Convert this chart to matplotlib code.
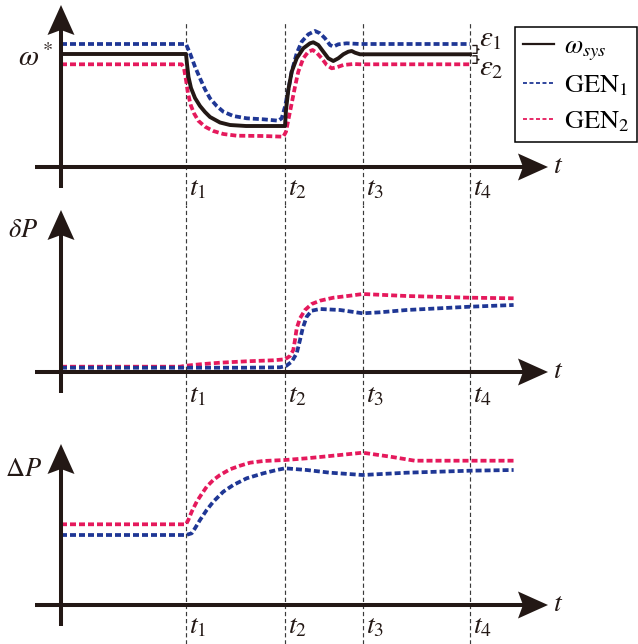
import matplotlib.pyplot as plt
from matplotlib.lines import Line2D
from matplotlib.patches import Polygon

plt.rcParams['mathtext.fontset'] = 'stix'
plt.rcParams['font.family'] = ['STIXGeneral', 'DejaVu Serif']

AXIS_C = '#231815'
BLUE = '#1f3795'
PINK = '#e5195c'
FS = 20

# time marks (x units = pixels from the vertical axis)
T_MARKS = [125, 224, 302, 409]
T_LABELS = ['$t_1$', '$t_2$', '$t_3$', '$t_4$']

# --- top panel: frequency ---
OMEGA_T = [0, 125, 126, 127.5, 130, 134, 139, 144, 149, 159, 169, 185, 224,
           225, 227.3, 230.7, 235.7, 242.3, 249, 252.3, 257.3, 262.3, 267.3,
           272.3, 277.3, 282.3, 287.3, 290.7, 294, 299, 409]
OMEGA_V = [113, 113, 103, 90, 79, 69, 61, 55, 50, 44.5, 42, 41, 41,
           57, 77, 95.3, 108.7, 118.7, 123.7, 124.7, 122, 115.3, 108.7,
           106, 108.7, 112.7, 115.3, 116, 114.3, 112.7, 112.7]

GEN1_T = [0, 125, 129, 134, 139, 144, 149, 155.7, 162.3, 172.3, 185.7, 202.3,
          217.3, 220.7, 224, 227.3, 230.7, 235.7, 240.7, 247.3, 254, 259, 264,
          269, 272.3, 277.3, 285.7, 299, 409]
GEN1_V = [123, 123, 113.7, 100.3, 88.7, 77.7, 68.7, 61, 55.3, 51, 48.7, 47.7,
          46.3, 48.7, 60.3, 77, 95.3, 113.7, 125.3, 132.7, 136, 133.7, 128.7,
          122, 120.3, 122.7, 123.7, 123, 123]

GEN2_T = [0, 120.7, 123, 125, 127, 129.7, 133, 137.3, 144, 152.3, 162.3, 175.7,
          202.3, 222.3, 225, 227.3, 230.7, 234, 237.3, 242.3, 247.3, 251.7,
          255.7, 260.7, 265.7, 270.7, 275.7, 282.3, 292.3, 299, 409]
GEN2_V = [102.7, 102.7, 98.7, 87, 73.7, 62, 53.7, 46.3, 40.3, 36, 33, 31.3,
          31, 30.3, 35.3, 47, 63.7, 80.3, 95.3, 108.7, 115.3, 117, 114.3, 108.7,
          102, 98.7, 99.7, 102, 103, 102.7, 102.7]

# --- middle panel: deltaP ---
DP1_T = [0, 119, 185.7, 219, 225, 230.7, 235.7, 239, 241.7, 245.7, 250.7, 259,
         279, 301.7, 319, 345.6, 409, 452.6]
DP1_V = [4.3, 4.3, 4.3, 4.7, 6, 10.3, 18.7, 32, 43.7, 55.3, 61.3, 63,
         62, 58.7, 59.7, 62, 65.3, 67]
DP2_T = [0, 119, 125, 139, 159, 185.7, 212.3, 224, 229, 232.3, 234, 235.7, 239,
         244, 250.7, 259, 272.3, 289, 301.7, 345.6, 409, 452.6]
DP2_V = [5.3, 5.3, 6.3, 7.7, 9.3, 10.7, 11.7, 12.7, 16, 22, 32, 43.7, 53.7,
         62, 68, 71.3, 74.3, 76.3, 78, 76, 74.3, 73.7]

# --- bottom panel: DeltaP ---
BP1_T = [0, 125, 130.7, 134, 139, 145.7, 152.3, 162.3, 172.3, 185.7, 202.3,
         215.7, 224, 245.7, 269, 301.7, 345.6, 409, 452.6]
BP1_V = [70, 70, 71.7, 76.7, 85, 95, 103.3, 113.3, 120, 126.7, 131.7,
         135, 136.7, 135, 132.3, 130, 132.3, 134.3, 135]
BP2_T = [0, 125, 127.3, 130.7, 135.7, 140.7, 145.7, 152.3, 159, 169, 179, 189,
         202.3, 224, 245.7, 269, 301.7, 329.5, 353.7, 409, 452.6]
BP2_V = [80.7, 80.7, 85, 93.3, 103.3, 111, 118.3, 125, 130, 135.7, 139.3,
         142.3, 144, 145, 146.7, 149, 152.3, 148.3, 144.3, 144.3, 144.3]

# panel bands in figure pixels: (top, bottom, y of horizontal axis)
BANDS = [(0, 205, 167), (205, 420, 372), (420, 644, 605)]
Y_TIPS = [162, 162, 161]
Y_LABELS = [r'$\omega^*$', r'$\delta P$', r'$\Delta P$']
Y_LABEL_POS = [(-7, 109), (-23, 141), (-19, 135)]
Y_LABEL_FS = [21, 19, 19]
T_LABEL_DY = [-9, -11, -9]

W, H = 638, 644
fig = plt.figure(figsize=(W / 100, H / 100), dpi=100)

dash_kw = dict(lw=2.7, dashes=(1.6, 0.8), dash_capstyle='butt')


def arrow(ax, tip, horizontal):
    L, hw, notch = 30, 13.5, 5
    x, y = tip
    if horizontal:
        pts = [(x, y), (x - L, y + hw), (x - L + notch, y), (x - L, y - hw)]
    else:
        pts = [(x, y), (x - hw, y - L), (x, y - L + notch), (x + hw, y - L)]
    ax.add_patch(Polygon(pts, closed=True, color=AXIS_C, lw=0, zorder=6,
                         clip_on=False))
    return L - notch


axes = []
for i, (top, bot, yax) in enumerate(BANDS):
    ax = fig.add_axes([0, 1 - bot / H, 1, (bot - top) / H])
    ax.set_xlim(-61, W - 61)
    ax.set_ylim(yax - bot, yax - top)
    ax.axis('off')
    axes.append(ax)

    # guide lines at the t marks
    vtop = 145 if i == 0 else yax - top
    ax.vlines(T_MARKS, yax - bot, vtop, colors='#3a3a3a', lw=0.85,
              linestyles=(0, (3.6, 2.4)), zorder=1)

    # axes with arrow heads
    back = arrow(ax, (487, 0), True)
    ax.plot([-26, 487 - back], [0, 0], color=AXIS_C, lw=2.9,
            solid_capstyle='butt', zorder=5)
    back = arrow(ax, (0, Y_TIPS[i]), False)
    ax.plot([0, 0], [-21, Y_TIPS[i] - back], color=AXIS_C, lw=2.9,
            solid_capstyle='butt', zorder=5)

    ax.text(492, 1, '$t$', fontsize=FS, ha='left', va='center', color=AXIS_C)
    for tm, lab in zip(T_MARKS, T_LABELS):
        ax.text(tm + 3, T_LABEL_DY[i], lab, fontsize=FS, ha='left', va='top',
                color=AXIS_C)
    ax.text(*Y_LABEL_POS[i], Y_LABELS[i], fontsize=Y_LABEL_FS[i], ha='right',
            va='center', color=AXIS_C)

ax0, ax1, ax2 = axes
ax0.plot(OMEGA_T, OMEGA_V, color=AXIS_C, lw=2.8, zorder=4)
ax0.plot(GEN1_T, GEN1_V, color=BLUE, zorder=3, **dash_kw)
ax0.plot(GEN2_T, GEN2_V, color=PINK, zorder=3, **dash_kw)

# epsilon braces at t4
levels = [GEN1_V[-1], OMEGA_V[-1], GEN2_V[-1]]
x0 = T_MARKS[-1] + 3
for k, (a, b, lab) in enumerate([(levels[0], levels[1], r'$\varepsilon_1$'),
                                 (levels[1], levels[2], r'$\varepsilon_2$')]):
    hi, lo = a - 1.5, b + 1
    mid = (hi + lo) / 2
    ax0.plot([x0, x0 + 4, x0 + 4, x0 + 6, x0 + 4, x0 + 4, x0],
             [hi, hi, mid + 0.5, mid, mid - 0.5, lo, lo],
             color=AXIS_C, lw=1.0, clip_on=False, zorder=4)
    ax0.text(x0 + 6, mid + 10 if k == 0 else mid - 9, lab,
             fontsize=21, ha='left', va='center', color=AXIS_C)

ax1.plot(DP2_T, DP2_V, color=PINK, zorder=3, **dash_kw)
ax1.plot(DP1_T, DP1_V, color=BLUE, zorder=3, **dash_kw)
ax2.plot(BP2_T, BP2_V, color=PINK, zorder=3, **dash_kw)
ax2.plot(BP1_T, BP1_V, color=BLUE, zorder=3, **dash_kw)

# legend uses thinner line samples, as in the original figure
handles = [
    Line2D([], [], color=AXIS_C, lw=1.6),
    Line2D([], [], color=BLUE, lw=1.3, dashes=(2.2, 1.4)),
    Line2D([], [], color=PINK, lw=1.3, dashes=(2.2, 1.4)),
]
labels = [r'$\omega_{sys}$', 'GEN$_1$', 'GEN$_2$']
leg = fig.legend(handles, labels,
                 loc='upper right', bbox_to_anchor=(637 / W, 1 - 26.7 / H),
                 bbox_transform=fig.transFigure, fontsize=19, frameon=True,
                 fancybox=False, edgecolor='black', framealpha=1,
                 handlelength=1.2, handletextpad=0.35, borderpad=0.3,
                 labelspacing=0.42, borderaxespad=0)
leg.get_frame().set_linewidth(1.1)

fig.savefig('out.png', dpi=100)
